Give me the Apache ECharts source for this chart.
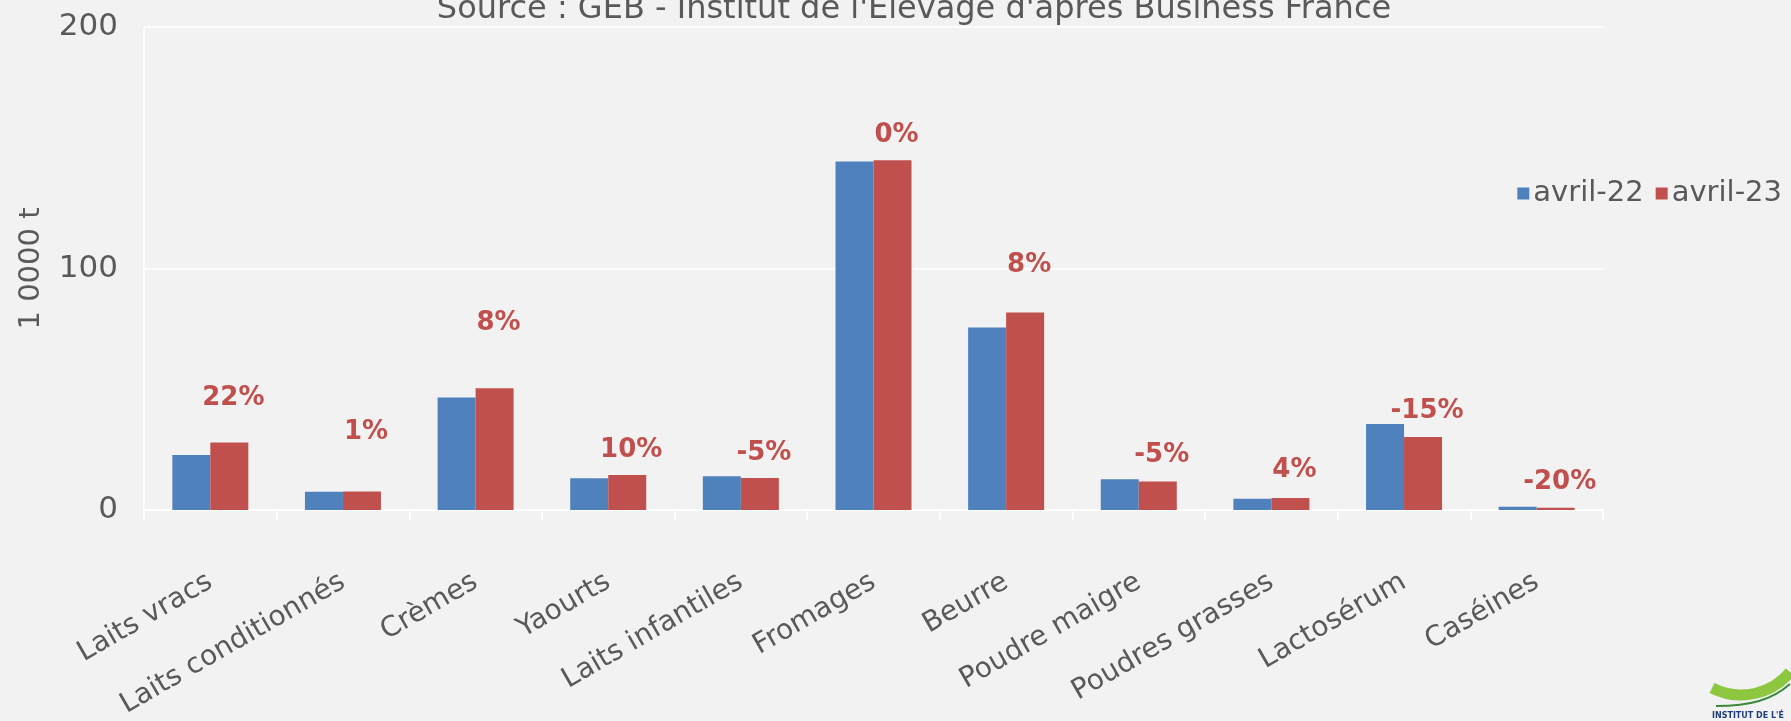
<!DOCTYPE html>
<html><head><meta charset="utf-8">
<script src="https://cdn.jsdelivr.net/npm/echarts@6/dist/echarts.min.js"></script>
<style>html,body{margin:0;padding:0;background:#f2f2f2;}#c{width:1791px;height:721px;}</style>
</head><body><div id="c"></div>
<script>
// ---- data ----
const categories = ['Laits vracs','Laits conditionnés','Crèmes','Yaourts','Laits infantiles','Fromages','Beurre','Poudre maigre','Poudres grasses','Lactosérum','Caséines'];
const seriesNames = ['avril-22','avril-23'];
const avril22 = [22.8, 7.6, 46.6, 13.1, 14.0, 144.3, 75.6, 12.7, 4.7, 35.6, 1.3];
const avril23 = [28.0, 7.7, 50.4, 14.5, 13.3, 144.8, 81.8, 11.8, 5.0, 30.2, 0.9];
const pctChange = [22, 1, 8, 10, -5, 0, 8, -5, 4, -15, -20];
const pctLabelLevel = [46.4, 32.4, 77.4, 24.6, 23.6, 155, 101.2, 22.5, 16.3, 40.7, 11.5];
const yTicks = [0, 100, 200];
const yAxisName = '1 0000 t';
const sourceText = "Source : GEB - Institut de l'Elevage d'après Business France";

// ---- style ----
const FONT = '"DejaVu Sans", sans-serif';
const GREY = '#595959';
const BLUE = '#4f81bd';
const RED = '#c0504d';
const BAR_W = 38;

const chart = echarts.init(document.getElementById('c'), null, {renderer: 'canvas'});
chart.setOption({
  backgroundColor: '#f2f2f2',
  animation: false,
  title: {
    text: sourceText, left: 909, textAlign: 'center', top: -11,
    textStyle: {fontFamily: FONT, fontSize: 32, fontWeight: 'normal', color: GREY}
  },
  legend: {
    data: seriesNames, right: 4, top: 174, itemWidth: 12, itemHeight: 12, itemGap: 12,
    icon: 'rect', textStyle: {fontFamily: FONT, fontSize: 29, color: GREY, padding: [0,0,0,-1]}
  },
  grid: {left: 144, right: 188, top: 27, bottom: 211, containLabel: false},
  xAxis: {
    type: 'category', data: categories,
    axisLine: {show: true, lineStyle: {color: '#ffffff', width: 1.5}},
    axisTick: {show: true, length: 10, lineStyle: {color: '#ffffff', width: 1.5}},
    axisLabel: {rotate: 30, margin: 70, interval: 0, fontFamily: FONT, fontSize: 28, color: GREY}
  },
  yAxis: {
    type: 'value', min: yTicks[0], max: yTicks[yTicks.length-1], interval: yTicks[1]-yTicks[0],
    name: yAxisName, nameLocation: 'middle', nameGap: 98, nameRotate: 90,
    nameTextStyle: {fontFamily: FONT, fontSize: 29, color: GREY},
    axisLine: {show: true, lineStyle: {color: '#ffffff', width: 1.5}},
    axisTick: {show: false},
    splitLine: {lineStyle: {color: '#ffffff', width: 1.5}},
    axisLabel: {margin: 26, fontFamily: FONT, fontSize: 31, color: GREY}
  },
  series: [
    {name: seriesNames[0], type: 'bar', data: avril22, barWidth: BAR_W, barGap: '0%', itemStyle: {color: BLUE}},
    {name: seriesNames[1], type: 'bar', data: avril23, barWidth: BAR_W, barGap: '0%', itemStyle: {color: RED}},
    {
      name: 'variation', type: 'custom', z: 10, clip: false,
      data: pctLabelLevel.map((v, i) => [i, v, pctChange[i]]),
      encode: {x: 0, y: 1},
      renderItem: function (params, api) {
        const p = api.coord([api.value(0), api.value(1)]);
        return {
          type: 'text', x: p[0] + BAR_W / 2 + 4, y: p[1],
          style: {
            text: api.value(2) + '%', fill: RED,
            fontFamily: FONT, fontSize: 26, fontWeight: 'bold',
            align: 'center', verticalAlign: 'middle'
          }
        };
      }
    }
  ],
  graphic: [
    {type: 'bezierCurve', shape: {x1: 1712, y1: 688, x2: 1790, y2: 672, cpx1: 1740, cpy1: 702, cpx2: 1772, cpy2: 694},
     style: {stroke: '#8dc63f', lineWidth: 11, fill: null}},
    {type: 'bezierCurve', shape: {x1: 1716, y1: 706, x2: 1790, y2: 684, cpx1: 1750, cpy1: 706, cpx2: 1772, cpy2: 700},
     style: {stroke: '#3a8a3a', lineWidth: 2, fill: null}},
    {type: 'text', x: 1712, y: 712, style: {text: "INSTITUT DE L'É", fill: '#1f3f7a', fontSize: 8, fontFamily: FONT, fontWeight: 'bold'}}
  ]
});
</script></body></html>
